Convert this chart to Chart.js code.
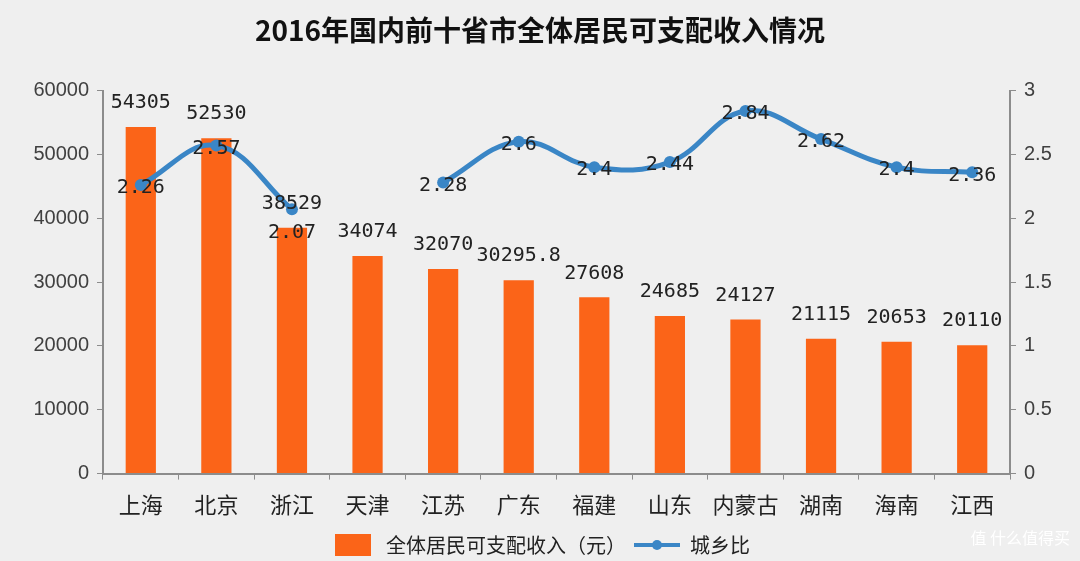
<!DOCTYPE html>
<html>
<head>
<meta charset="utf-8">
<script src="https://cdn.jsdelivr.net/npm/chart.js@4/dist/chart.umd.min.js"></script>
<style>
  html, body { margin:0; padding:0; background:#efefef; }
  #wrap { position:relative; width:1080px; height:561px; }
  #mark { position:absolute; right:10px; bottom:12px; font:16px "Noto Sans CJK SC"; color:#fff; }
</style>
</head>
<body>
<div id="wrap">
  <canvas id="chart" width="1080" height="561"></canvas>
  <div id="mark">值 什么值得买</div>
</div>
<script>
/* ---------- data ---------- */
const provinces = ['上海','北京','浙江','天津','江苏','广东','福建','山东','内蒙古','湖南','海南','江西'];
const income = [54305, 52530, 38529, 34074, 32070, 30295.8, 27608, 24685, 24127, 21115, 20653, 20110];
const ratio = [2.26, 2.57, 2.07, null, 2.28, 2.6, 2.4, 2.44, 2.84, 2.62, 2.4, 2.36];
const incomeTicks = [0, 10000, 20000, 30000, 40000, 50000, 60000];
const ratioTicks = [0, 0.5, 1, 1.5, 2, 2.5, 3];

const ORANGE = '#fb6418';
const BLUE = '#3a86c6';
const AXIS = '#8c8c8c';

/* ---------- legend icons ---------- */
function makeIcon(w, h, draw){
  const c = document.createElement('canvas');
  c.width = w; c.height = h;
  draw(c.getContext('2d'));
  return c;
}
const barIcon = makeIcon(36, 22, g => { g.fillStyle = ORANGE; g.fillRect(0, 0, 36, 22); });
const lineIcon = makeIcon(46, 16, g => {
  g.strokeStyle = BLUE; g.lineWidth = 4;
  g.beginPath(); g.moveTo(0, 8); g.lineTo(46, 8); g.stroke();
  g.fillStyle = BLUE; g.beginPath(); g.arc(23, 8, 5, 0, Math.PI * 2); g.fill();
});

/* ---------- value labels ---------- */
const valueLabels = {
  id: 'valueLabels',
  afterDatasetsDraw(chart){
    const ctx = chart.ctx;
    ctx.save();
    ctx.font = '20px "DejaVu Sans Mono"';
    ctx.fillStyle = '#222';
    ctx.textAlign = 'center';
    chart.data.datasets.forEach((ds, di) => {
      const meta = chart.getDatasetMeta(di);
      meta.data.forEach((el, i) => {
        const v = ds.data[i];
        if (v === null || v === undefined) return;
        if (ds.type === 'bar') {
          ctx.textBaseline = 'bottom';
          ctx.fillText(String(v), el.x, el.y - 14);
        } else {
          ctx.textBaseline = 'middle';
          const dy = i === 2 ? 23 : 3;
          ctx.fillText(String(v), el.x, el.y + dy);
        }
      });
    });
    ctx.restore();
  }
};

const plainTick = v => String(v);

new Chart(document.getElementById('chart'), {
  data: {
    labels: provinces,
    datasets: [
      {
        type: 'bar',
        label: '全体居民可支配收入（元）',
        data: income,
        backgroundColor: ORANGE,
        yAxisID: 'y',
        order: 1,
        categoryPercentage: 0.8,
        barPercentage: 0.5
      },
      {
        type: 'line',
        label: '城乡比',
        data: ratio,
        borderColor: BLUE,
        backgroundColor: BLUE,
        borderWidth: 5,
        tension: 0.4,
        spanGaps: false,
        pointRadius: 6,
        pointHoverRadius: 6,
        pointBackgroundColor: BLUE,
        pointBorderWidth: 0,
        yAxisID: 'y1',
        order: 0
      }
    ]
  },
  options: {
    responsive: false,
    animation: false,
    layout: { padding: { top: 4, bottom: -4, left: 0, right: 0 } },
    plugins: {
      title: {
        display: true,
        text: '2016年国内前十省市全体居民可支配收入情况',
        color: '#111',
        font: { family: '"Noto Sans CJK SC"', size: 28, weight: 'bold' },
        padding: { top: 10, bottom: 43 }
      },
      legend: {
        position: 'bottom',
        labels: {
          usePointStyle: true,
          pointStyleWidth: 46,
          color: '#222',
          font: { family: '"Noto Sans CJK SC"', size: 20 },
          padding: 8,
          sort: (a, b) => a.datasetIndex - b.datasetIndex,
          generateLabels: chart => chart.data.datasets.map((ds, i) => ({
            text: ds.label,
            datasetIndex: i,
            pointStyle: i === 0 ? barIcon : lineIcon,
            fillStyle: 'transparent',
            strokeStyle: 'transparent',
            lineWidth: 0,
            fontColor: '#222'
          }))
        }
      },
      tooltip: { enabled: false }
    },
    scales: {
      x: {
        offset: true,
        afterFit: s => { s.height -= 3; },
        grid: { display: true, drawOnChartArea: false, offset: true, color: AXIS, tickLength: 6 },
        border: { display: true, color: AXIS, width: 2 },
        ticks: {
          color: '#222',
          font: { family: '"Noto Sans CJK SC"', size: 22 },
          padding: 12,
          maxRotation: 0,
          autoSkip: false
        }
      },
      y: {
        position: 'left',
        min: incomeTicks[0],
        max: incomeTicks[incomeTicks.length - 1],
        afterBuildTicks: s => { s.ticks = incomeTicks.map(v => ({ value: v })); },
        afterFit: s => { s.width = 103; },
        grid: { display: true, drawOnChartArea: false, color: AXIS, tickLength: 6 },
        border: { display: true, color: AXIS, width: 2 },
        ticks: { color: '#404040', font: { family: '"Liberation Sans"', size: 20 }, padding: 8, callback: plainTick }
      },
      y1: {
        position: 'right',
        min: ratioTicks[0],
        max: ratioTicks[ratioTicks.length - 1],
        afterBuildTicks: s => { s.ticks = ratioTicks.map(v => ({ value: v })); },
        afterFit: s => { s.width = 70; },
        grid: { display: true, drawOnChartArea: false, color: AXIS, tickLength: 6 },
        border: { display: true, color: AXIS, width: 2 },
        ticks: { color: '#404040', font: { family: '"Liberation Sans"', size: 20 }, padding: 8, callback: plainTick }
      }
    }
  },
  plugins: [valueLabels]
});
</script>
</body>
</html>
